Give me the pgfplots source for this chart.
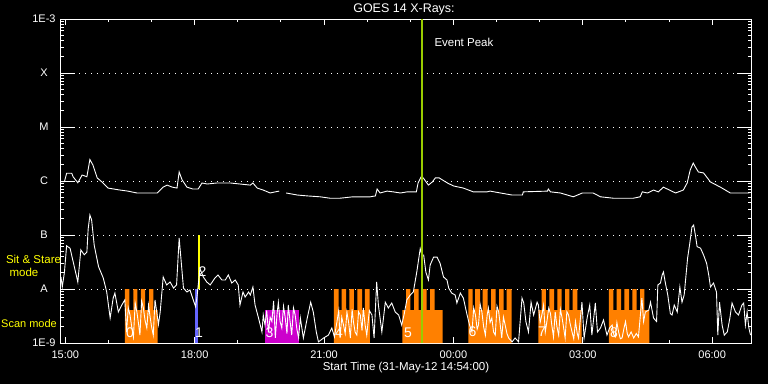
\documentclass[border=0pt]{standalone}
\usepackage{pgfplots}
\pgfplotsset{compat=1.18}
\usepackage{fontspec}
\setmainfont{Liberation Sans}
\definecolor{scanor}{RGB}{255,128,0}
\definecolor{sitmag}{RGB}{204,0,204}
\definecolor{sitblue}{RGB}{102,102,255}
\definecolor{peakgreen}{RGB}{153,204,0}
\definecolor{sityel}{RGB}{255,255,0}
\newcommand{\lf}{\fontsize{11}{12}\selectfont}
\begin{document}
\begin{tikzpicture}[x=1pt,y=1pt]
\fill[black] (0,0) rectangle (768,384);
\begin{axis}[
  at={(61pt,41pt)}, anchor=south west,
  width=690pt, height=324pt, scale only axis,
  xmin=14.9, xmax=30.9, ymode=log, ymin=1e-9, ymax=1e-3,
  axis line style={white, line width=1pt},
  xtick={15,18,21,24,27,30},
  xticklabels={15:00,18:00,21:00,00:00,03:00,06:00},
  minor xtick={16,17,19,20,22,23,25,26,28,29},
  ytick={1e-9,1e-8,1e-7,1e-6,1e-5,1e-4,1e-3},
  yticklabels={1E-9,A,B,C,M,X,1E-3},
  tick align=inside,
  xtick style={white, line width=1pt, /pgfplots/major tick length=6pt, /pgfplots/minor tick length=3pt},
  ytick style={white, line width=1pt, /pgfplots/major tick length=14pt},
  ymajorgrids, grid style={white, line width=1pt, dash pattern=on 1pt off 5pt},
  tick label style={white, font=\lf},
  yticklabel style={anchor=center, xshift=-17pt},
  xticklabel style={anchor=center, yshift=-12pt},
  xlabel={Start Time (31-May-12 14:54:00)},
  xlabel style={white, font=\fontsize{11.5}{12}\selectfont, at={(axis description cs:0.5,0)}, anchor=center, yshift=-25pt},
]
% scan-mode blocks
\addplot[fill=scanor, draw=none] coordinates {(16.384,1e-9) (16.384,1e-8) (16.484,1e-8) (16.484,4.08e-9) (16.577,4.08e-9) (16.577,1e-8) (16.669,1e-8) (16.669,4.08e-9) (16.755,4.08e-9) (16.755,1e-8) (16.848,1e-8) (16.848,4.08e-9) (16.941,4.08e-9) (16.941,1e-8) (17.040,1e-8) (17.040,4.08e-9) (17.142,4.08e-9) (17.142,1e-9)} -- cycle;
\addplot[fill=scanor, draw=none] coordinates {(21.230,1e-9) (21.230,1e-8) (21.339,1e-8) (21.339,4.08e-9) (21.409,4.08e-9) (21.409,1e-8) (21.509,1e-8) (21.509,4.08e-9) (21.585,4.08e-9) (21.585,1e-8) (21.694,1e-8) (21.694,4.08e-9) (21.771,4.08e-9) (21.771,1e-8) (21.880,1e-8) (21.880,4.08e-9) (21.948,4.08e-9) (21.948,1e-8) (22.058,1e-8) (22.058,4.08e-9) (22.065,4.08e-9) (22.065,1e-9)} -- cycle;
\addplot[fill=scanor, draw=none] coordinates {(22.814,1e-9) (22.814,4.08e-9) (22.900,4.08e-9) (22.900,1e-8) (23.004,1e-8) (23.004,4.08e-9) (23.086,4.08e-9) (23.086,1e-8) (23.191,1e-8) (23.191,4.08e-9) (23.272,4.08e-9) (23.272,1e-8) (23.377,1e-8) (23.377,4.08e-9) (23.458,4.08e-9) (23.458,1e-8) (23.562,1e-8) (23.562,4.08e-9) (23.751,4.08e-9) (23.751,1e-9)} -- cycle;
\addplot[fill=scanor, draw=none] coordinates {(24.345,1e-9) (24.345,1e-8) (24.447,1e-8) (24.447,4.08e-9) (24.500,4.08e-9) (24.500,1e-8) (24.616,1e-8) (24.616,4.08e-9) (24.678,4.08e-9) (24.678,1e-8) (24.794,1e-8) (24.794,4.08e-9) (24.872,4.08e-9) (24.872,1e-8) (24.981,1e-8) (24.981,4.08e-9) (25.057,4.08e-9) (25.057,1e-8) (25.166,1e-8) (25.166,4.08e-9) (25.234,4.08e-9) (25.234,1e-8) (25.351,1e-8) (25.351,1e-9)} -- cycle;
\addplot[fill=scanor, draw=none] coordinates {(25.968,1e-9) (25.968,4.08e-9) (26.047,4.08e-9) (26.047,1e-8) (26.146,1e-8) (26.146,4.08e-9) (26.223,4.08e-9) (26.223,1e-8) (26.332,1e-8) (26.332,4.08e-9) (26.409,4.08e-9) (26.409,1e-8) (26.511,1e-8) (26.511,4.08e-9) (26.587,4.08e-9) (26.587,1e-8) (26.687,1e-8) (26.687,4.08e-9) (26.765,4.08e-9) (26.765,1e-8) (26.872,1e-8) (26.872,4.08e-9) (26.974,4.08e-9) (26.974,1e-9)} -- cycle;
\addplot[fill=scanor, draw=none] coordinates {(27.607,1e-9) (27.607,1e-8) (27.707,1e-8) (27.707,4.08e-9) (27.786,4.08e-9) (27.786,1e-8) (27.886,1e-8) (27.886,4.08e-9) (27.962,4.08e-9) (27.962,1e-8) (28.071,1e-8) (28.071,4.08e-9) (28.148,4.08e-9) (28.148,1e-8) (28.250,1e-8) (28.250,4.08e-9) (28.327,4.08e-9) (28.327,1e-8) (28.426,1e-8) (28.426,4.08e-9) (28.542,4.08e-9) (28.542,1e-9)} -- cycle;
% sit-and-stare block
\addplot[fill=sitmag, draw=none] coordinates {(19.630,1e-9) (19.630,4.08e-9) (20.419,4.08e-9) (20.419,1e-9)} -- cycle;
\addplot[fill=sitblue, draw=none] coordinates {(18.007,1e-9) (18.007,1e-8) (18.070,1e-8) (18.070,1e-9)} -- cycle;
\addplot[sityel, line width=1.8pt] coordinates {(18.105,1e-8) (18.105,1e-7)};
% long channel
\addplot[white, line width=0.9pt] coordinates {
(14.90,0.97e-6) (14.98,0.97e-6) (15.03,1.39e-6) (15.15,1.39e-6) (15.18,1.2e-6) (15.29,0.93e-6) (15.39,1.29e-6) (15.50,1.2e-6) (15.57,2.5e-6) (15.64,1.98e-6) (15.74,1.14e-6) (15.85,0.96e-6) (15.99,0.74e-6) (16.27,0.68e-6) (16.45,0.65e-6) (16.66,0.60e-6) (17.13,0.60e-6) (17.27,0.77e-6) (17.36,0.84e-6) (17.48,0.77e-6) (17.59,0.74e-6) (17.64,1.47e-6) (17.71,1.04e-6) (17.82,0.77e-6) (17.96,0.71e-6) (18.08,0.71e-6) (18.17,0.92e-6) (18.29,0.88e-6) (18.52,0.92e-6) (18.82,0.92e-6) (19.05,0.88e-6) (19.29,0.84e-6) (19.35,0.92e-6) (19.45,0.74e-6) (19.59,0.68e-6) (19.75,0.60e-6) (19.87,0.63e-6) (19.96,0.65e-6)};
\addplot[white, line width=0.9pt] coordinates {
(20.12,0.60e-6) (20.38,0.55e-6) (20.61,0.53e-6) (20.91,0.51e-6) (21.14,0.48e-6) (21.37,0.48e-6) (21.67,0.51e-6) (22.07,0.51e-6) (22.19,0.53e-6) (22.23,0.71e-6) (22.30,0.60e-6) (22.46,0.65e-6) (22.60,0.63e-6) (22.77,0.60e-6) (22.93,0.63e-6) (23.14,0.63e-6) (23.18,0.92e-6) (23.25,1.19e-6) (23.30,1.14e-6) (23.42,0.84e-6) (23.51,0.96e-6) (23.58,1.14e-6) (23.67,1.14e-6) (23.86,0.92e-6) (24.00,0.81e-6) (24.23,0.74e-6) (24.46,0.63e-6) (24.78,0.63e-6) (24.85,0.65e-6) (25.09,0.60e-6) (25.36,0.55e-6) (25.60,0.55e-6) (25.62,0.63e-6) (26.18,0.65e-6) (26.20,0.71e-6) (26.25,0.63e-6) (26.48,0.60e-6) (26.78,0.51e-6) (26.99,0.60e-6) (27.24,0.60e-6) (27.41,0.51e-6) (27.71,0.48e-6) (28.17,0.48e-6) (28.33,0.51e-6) (28.38,0.63e-6) (28.50,0.60e-6) (28.64,0.68e-6) (28.75,0.63e-6) (28.87,0.77e-6) (28.96,0.71e-6) (29.15,0.60e-6) (29.33,0.68e-6) (29.42,0.92e-6) (29.49,1.60e-6) (29.56,2.15e-6) (29.61,1.82e-6) (29.68,1.47e-6) (29.80,1.41e-6) (29.96,0.96e-6) (30.19,0.77e-6) (30.42,0.60e-6) (30.58,0.60e-6) (30.72,0.60e-6) (30.86,0.60e-6)};
% short channel
\addplot[white, line width=0.9pt] coordinates {
(14.90,1.67e-8) (14.93,1.09e-8) (14.98,2.07e-8) (15.03,6.3e-8) (15.11,5.7e-8) (15.19,3.0e-8) (15.29,1.35e-8) (15.36,5.3e-8) (15.44,4.3e-8) (15.50,4.8e-8) (15.53,1.3e-7) (15.57,2.35e-7) (15.61,1.9e-7) (15.67,6.5e-8) (15.77,2.6e-8) (15.88,1.6e-8) (15.96,8.8e-9) (16.04,2.9e-9) (16.11,6.8e-9) (16.15,8.4e-9) (16.23,3.75e-9) (16.31,5.05e-9) (16.38,6.3e-9) (16.42,1.6e-9) (16.46,4.5e-9) (16.50,3.3e-9) (16.54,2.0e-9) (16.58,1.3e-9) (16.62,5.5e-9) (16.66,3.75e-9) (16.70,2.2e-9) (16.73,1.4e-9) (16.77,6.0e-9) (16.81,4.45e-9) (16.85,2.6e-9) (16.89,1.9e-9) (16.93,5.0e-9) (16.96,3.3e-9) (17.00,2.0e-9) (17.04,1.4e-9) (17.08,6.3e-9) (17.12,3.75e-9) (17.16,2.2e-9) (17.20,3.75e-9) (17.27,1.67e-8) (17.35,1.19e-8) (17.43,1.35e-8) (17.51,1.04e-8) (17.58,1.19e-8) (17.64,8.8e-8) (17.68,3.75e-8) (17.74,1.04e-8) (17.82,8.8e-9) (17.89,9.6e-9) (18.02,4.7e-9) (18.05,6.8e-9) (18.10,1.6e-8) (18.12,2.4e-8) (18.20,1.67e-8) (18.28,1.35e-8) (18.36,1.19e-8) (18.47,1.6e-8) (18.54,1.82e-8) (18.63,1.47e-8) (18.71,1.47e-8) (18.78,1.82e-8) (18.86,1.29e-8) (18.94,1.47e-8) (19.01,1.19e-8) (19.05,5.05e-9) (19.12,8.8e-9) (19.17,7.1e-9) (19.25,8.8e-9) (19.29,7.74e-9) (19.35,1.09e-8) (19.40,5.05e-9) (19.48,2.9e-9) (19.56,1.6e-9) (19.59,3.3e-9) (19.63,2.15e-9) (19.67,4.0e-9) (19.71,1.6e-9) (19.75,3.0e-9) (19.79,2.5e-9) (19.83,6.0e-9) (19.87,1.24e-9) (19.91,3.5e-9) (19.94,5.7e-9) (19.98,2.5e-9) (20.02,1.9e-9) (20.06,4.8e-9) (20.10,2.9e-9) (20.14,1.5e-9) (20.17,5.05e-9) (20.21,2.6e-9) (20.25,1.4e-9) (20.29,4.5e-9) (20.33,3.3e-9) (20.37,1.8e-9) (20.41,1.24e-9) (20.45,2.9e-9) (20.52,1.24e-9) (20.61,2.9e-9) (20.69,5.7e-9) (20.75,3.75e-9) (20.82,1.6e-9) (20.87,1.05e-9) (20.99,1.24e-9) (21.10,1.4e-9) (21.18,1.9e-9) (21.24,1.3e-9) (21.30,2.5e-9) (21.34,4.0e-9) (21.37,1.24e-9) (21.41,3.0e-9) (21.45,2.15e-9) (21.49,1.5e-9) (21.53,3.75e-9) (21.57,2.4e-9) (21.61,1.24e-9) (21.65,4.2e-9) (21.68,2.5e-9) (21.72,1.6e-9) (21.76,1.4e-9) (21.80,3.8e-9) (21.84,3.3e-9) (21.88,1.7e-9) (21.91,4.45e-9) (21.95,2.2e-9) (21.99,1.4e-9) (22.05,4.0e-9) (22.11,3.3e-9) (22.16,1.24e-9) (22.22,1.35e-8) (22.26,5.05e-9) (22.34,1.6e-9) (22.42,5.7e-9) (22.49,4.45e-9) (22.57,5.5e-9) (22.65,3.75e-9) (22.73,3.3e-9) (22.80,2.15e-9) (22.86,3.5e-9) (22.92,6.3e-9) (23.00,7.74e-9) (23.07,8.8e-9) (23.15,2.07e-8) (23.23,5.6e-8) (23.27,4.26e-8) (23.31,4.26e-8) (23.36,2.07e-8) (23.42,1.47e-8) (23.46,2.78e-8) (23.54,3.9e-8) (23.62,3.9e-8) (23.69,3.0e-8) (23.77,1.67e-8) (23.85,1.47e-8) (23.89,1.04e-8) (23.96,8.4e-9) (24.04,7.74e-9) (24.08,5.5e-9) (24.16,8.4e-9) (24.23,6.8e-9) (24.31,3.5e-9) (24.37,2.2e-9) (24.43,1.6e-9) (24.47,4.5e-9) (24.51,3.3e-9) (24.55,1.8e-9) (24.58,2.15e-9) (24.62,5.2e-9) (24.66,3.75e-9) (24.70,2.0e-9) (24.74,1.4e-9) (24.78,3.2e-9) (24.81,4.45e-9) (24.85,2.4e-9) (24.89,2.9e-9) (24.93,1.6e-9) (24.97,1.4e-9) (25.01,4.8e-9) (25.05,3.75e-9) (25.09,2.0e-9) (25.12,1.24e-9) (25.16,3.0e-9) (25.20,2.15e-9) (25.24,1.5e-9) (25.28,1.24e-9) (25.36,1.05e-9) (25.43,1.24e-9) (25.51,1.05e-9) (25.59,6.8e-9) (25.63,5.5e-9) (25.68,2.5e-9) (25.74,1.6e-9) (25.80,5.7e-9) (25.86,3.3e-9) (25.94,5.7e-9) (25.97,5.05e-9) (26.01,2.4e-9) (26.05,3.3e-9) (26.09,5.0e-9) (26.13,1.6e-9) (26.17,2.6e-9) (26.21,4.45e-9) (26.25,3.5e-9) (26.28,2.15e-9) (26.32,1.3e-9) (26.36,3.75e-9) (26.40,2.0e-9) (26.44,1.4e-9) (26.48,4.2e-9) (26.52,2.9e-9) (26.56,1.8e-9) (26.59,1.24e-9) (26.63,3.8e-9) (26.67,3.3e-9) (26.71,2.2e-9) (26.75,1.6e-9) (26.79,1.2e-9) (26.83,2.5e-9) (26.87,1.5e-9) (26.90,1.24e-9) (26.98,5.7e-9) (27.03,1.24e-9) (27.10,2.9e-9) (27.16,5.05e-9) (27.21,1.4e-9) (27.29,5.5e-9) (27.34,1.6e-9) (27.41,1.9e-9) (27.48,2.67e-9) (27.56,1.4e-9) (27.62,1.9e-9) (27.68,2.15e-9) (27.72,1.4e-9) (27.75,1.3e-9) (27.79,2.4e-9) (27.83,1.6e-9) (27.87,1.2e-9) (27.91,1.24e-9) (27.95,1.8e-9) (27.99,2.5e-9) (28.03,1.5e-9) (28.06,1.3e-9) (28.12,1.6e-9) (28.18,1.24e-9) (28.24,1.5e-9) (28.29,1.3e-9) (28.37,6.8e-9) (28.41,2.5e-9) (28.45,3.75e-9) (28.53,4.08e-9) (28.57,5.7e-9) (28.64,2.9e-9) (28.71,2.5e-9) (28.74,1.19e-8) (28.80,1.29e-8) (28.84,1.82e-8) (28.87,2.07e-8) (28.91,1.35e-8) (28.97,7.74e-9) (29.03,3.5e-9) (29.07,3.3e-9) (29.12,5.05e-9) (29.19,3.75e-9) (29.25,1.09e-8) (29.30,5.7e-9) (29.35,7.74e-9) (29.40,2.07e-8) (29.43,3.75e-8) (29.48,7.0e-8) (29.53,1.4e-7) (29.57,1.53e-7) (29.61,1.0e-7) (29.65,6.1e-8) (29.73,5.7e-8) (29.80,4.26e-8) (29.87,3.0e-8) (29.92,1.82e-8) (29.96,1.09e-8) (30.03,1.29e-8) (30.10,8.8e-9) (30.13,1.4e-9) (30.17,5.7e-9) (30.23,2.15e-9) (30.28,1.4e-9) (30.35,1.6e-9) (30.41,2.9e-9) (30.46,5.5e-9) (30.54,3.75e-9) (30.61,3.3e-9) (30.69,5.05e-9) (30.73,5.5e-9) (30.77,2.15e-9) (30.81,3.75e-9) (30.85,1.9e-9) (30.89,1.4e-9)};
% event peak
\addplot[peakgreen, line width=2.4pt] coordinates {(23.271,1e-9) (23.271,1e-3)};
\end{axis}
% title and annotations
\node[white, font=\fontsize{12.5}{13}\selectfont] at (404,375) {GOES 14 X-Rays:};
\node[white, anchor=west, font=\fontsize{11.5}{12}\selectfont] at (431,341.5) {Event Peak};
\node[sityel, font=\fontsize{11.5}{12}\selectfont] at (33.5,125) {Sit \& Stare};
\node[sityel, font=\fontsize{11.5}{12}\selectfont] at (24,112) {mode};
\node[sityel, font=\fontsize{11}{12}\selectfont] at (29,60) {Scan mode};
\begin{scope}[every node/.style={white, font=\fontsize{14}{14}\selectfont, inner sep=0pt}]
\node at (130,51.5) {0};
\node at (199,51) {1};
\node at (202.5,112.5) {2};
\node at (269.5,51.5) {3};
\node at (339,51) {4};
\node at (408,51.5) {5};
\node at (472.5,52) {6};
\node at (542,52) {7};
\node at (614,51) {8};
\end{scope}
\pgfresetboundingbox
\useasboundingbox (0,0) rectangle (768,384);
\end{tikzpicture}
\end{document}
